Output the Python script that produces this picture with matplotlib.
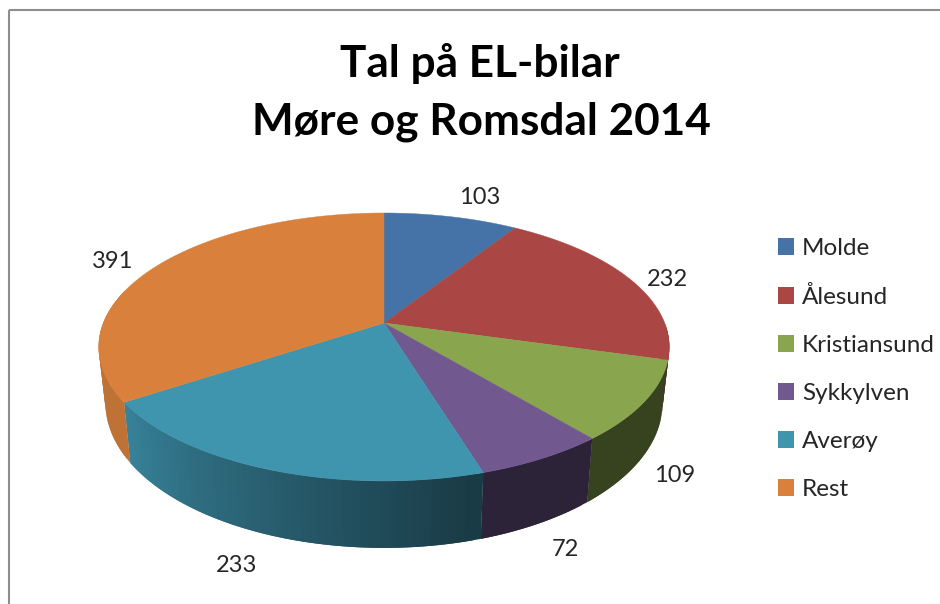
import numpy as np
import matplotlib
matplotlib.use("Agg")
import matplotlib.pyplot as plt
from matplotlib.patches import Patch, Polygon, Rectangle

plt.rcParams['font.family'] = ['Lato', 'DejaVu Sans']

names = ["Molde", "Ålesund", "Kristiansund", "Sykkylven", "Averøy", "Rest"]
values = [103, 232, 109, 72, 233, 391]
colors = ["#4573a7", "#aa4643", "#89a54e", "#71588f", "#3f94ae", "#d9813c"]

# where the value labels sit, pixels
label_x = [480, 667, 675, 565, 237, 113]
label_y = [197, 279, 475, 549, 566, 262]


def top_face(t):
    w = 1 + 0.179 * np.cos(t)
    return 384 + 280.7 * np.sin(t) / w, 323 - 129.7 * np.cos(t) / w


def bottom_face(t):
    w = 1 + 0.179 * np.cos(t)
    return 384 + 274 * np.sin(t) / w, 377.4 - 140 * np.cos(t) / w


fig = plt.figure(figsize=(9.4, 6.04), dpi=100)
ax = fig.add_axes([0, 0, 1, 1])
ax.set_xlim(0, 940)
ax.set_ylim(604, 0)
ax.axis("off")

# chart frame, runs off the right and the bottom of the picture
ax.add_patch(Rectangle((9, 10), 1000, 1000, fill=False, edgecolor="#8e8e8e", lw=1.5))

edges = np.cumsum([0] + values) / sum(values) * 2 * np.pi

# side of the disc, hidden by the top face further down
# every strip overlaps the next one, that keeps seams out of the gradient
for i in range(len(values)):
    a = max(edges[i], np.radians(90))
    b = min(edges[i + 1], np.radians(285))
    if b <= a:
        continue
    steps = np.append(np.arange(a, b, np.radians(1.5)), b)
    for s0, s1 in zip(steps[:-1], steps[1:]):
        shade = np.interp(np.degrees((s0 + s1) / 2), [165, 236], [0.40, 0.88])
        rgb = np.array(matplotlib.colors.to_rgb(colors[i])) * shade
        s2 = min(s1 + np.radians(1.5), b)
        tx, ty = top_face(np.array([s0, s2]))
        bx, by = bottom_face(np.array([s2, s0]))
        pts = np.column_stack([np.r_[tx, bx], np.r_[ty, by]])
        ax.add_patch(Polygon(pts, closed=True, facecolor=rgb, edgecolor="none"))

# top face
for i in range(len(values)):
    t = np.linspace(edges[i], edges[i + 1], 120)
    x, y = top_face(t)
    pts = np.column_stack([np.r_[384, x], np.r_[323, y]])
    ax.add_patch(Polygon(pts, closed=True, facecolor=colors[i], edgecolor=colors[i], lw=0.3))

for v, lx, ly in zip(values, label_x, label_y):
    ax.text(lx, ly, str(v), fontsize=17, color="#262626", ha="center", va="center")

ax.text(480, 64, "Tal på EL-bilar", fontsize=31.8, fontweight="bold", color="black",
        ha="center", va="center")
ax.text(481, 122, "Møre og Romsdal 2014", fontsize=31.8, fontweight="bold", color="black",
        ha="center", va="center")

handles = [Patch(facecolor=c, edgecolor="none") for c in colors]
ax.legend(handles, names, loc="upper left", bbox_to_anchor=(778, 238),
          bbox_transform=ax.transData, frameon=False, fontsize=17.5,
          labelcolor="#262626", handlelength=0.66, handleheight=0.66,
          handletextpad=0.32, labelspacing=1.11, borderpad=0, borderaxespad=0)

fig.savefig("out.png", dpi=100)
